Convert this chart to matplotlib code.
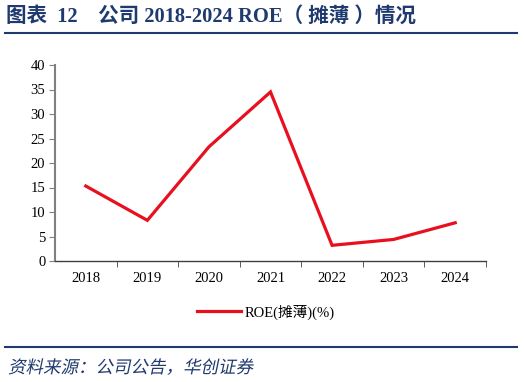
import matplotlib
matplotlib.use("Agg")
import matplotlib.pyplot as plt
from matplotlib.lines import Line2D
from matplotlib.textpath import TextPath
from matplotlib.patches import PathPatch
from matplotlib.font_manager import FontProperties
from matplotlib.transforms import Affine2D

years = ["2018", "2019", "2020", "2021", "2022", "2023", "2024"]
roe = [15.3, 8.3, 23.3, 34.5, 3.2, 4.4, 7.8]
yticks = [0, 5, 10, 15, 20, 25, 30, 35, 40]

serif = ['Liberation Serif', 'Noto Sans CJK SC']
plt.rcParams['font.family'] = serif

W, H = 524, 382
fig = plt.figure(figsize=(W/100, H/100), dpi=100)
ax = fig.add_axes([55/W, 1-261/H, (486-55)/W, (261-65)/H])

x = list(range(len(years)))
ax.plot(x, roe, color='#E8101F', lw=2.3, solid_joinstyle='miter')
ax.set_xlim(-0.5, len(years)-0.5)
ax.set_ylim(0, 40)
ax.set_yticks(yticks)
ax.set_yticklabels([str(v) for v in yticks], fontsize=10.5)
ax.set_xticks(x)
ax.set_xticklabels(years, fontsize=10.5)
ax.tick_params(axis='x', length=0, pad=8)
ax.set_xticks([i + 0.5 for i in range(len(years))], minor=True)
ax.tick_params(axis='x', which='minor', length=4, direction='out', color='#404040')
ax.tick_params(axis='y', length=4, direction='out', color='#808080', pad=3)
for s in ['top', 'right']:
    ax.spines[s].set_visible(False)
ax.spines['left'].set_color('#808080')
ax.spines['left'].set_linewidth(1.5)
ax.spines['bottom'].set_color('#404040')
ax.spines['bottom'].set_linewidth(1.0)

handle = Line2D([], [], color='#E8101F', lw=2.3)
fig.legend([handle], ['ROE(摊薄)(%)'], loc='center', bbox_to_anchor=(266/W, 1-312/H),
           frameon=False, handlelength=3.0, handletextpad=0.3,
           prop={'family': serif, 'size': 10.5})

fig.text(6/W, 1-17/H, '图表  12    公司 2018-2024 ROE（ 摊薄 ）情况', fontsize=14.8,
         fontweight='bold', color='#1F3A6E', va='center', ha='left', family=serif)
fig.add_artist(Line2D([5/W, 517/W], [1-33/H, 1-33/H], color='#1F3A6E', lw=1.5))
fig.add_artist(Line2D([5/W, 517/W], [1-347/H, 1-347/H], color='#1F3A6E', lw=1.5))

# italic (skewed) source note
src = '资料来源：公司公告，华创证券'
fsize_px = 17.5
tp = TextPath((0, 0), src, size=fsize_px, prop=FontProperties(family='Noto Sans CJK SC'))
tr = Affine2D().skew_deg(12, 0).translate(8, H - 373)
patch = PathPatch(tr.transform_path(tp), facecolor='#1F3A6E', edgecolor='none',
                  transform=None)
fig.add_artist(patch)

fig.savefig('out.png', dpi=100)
